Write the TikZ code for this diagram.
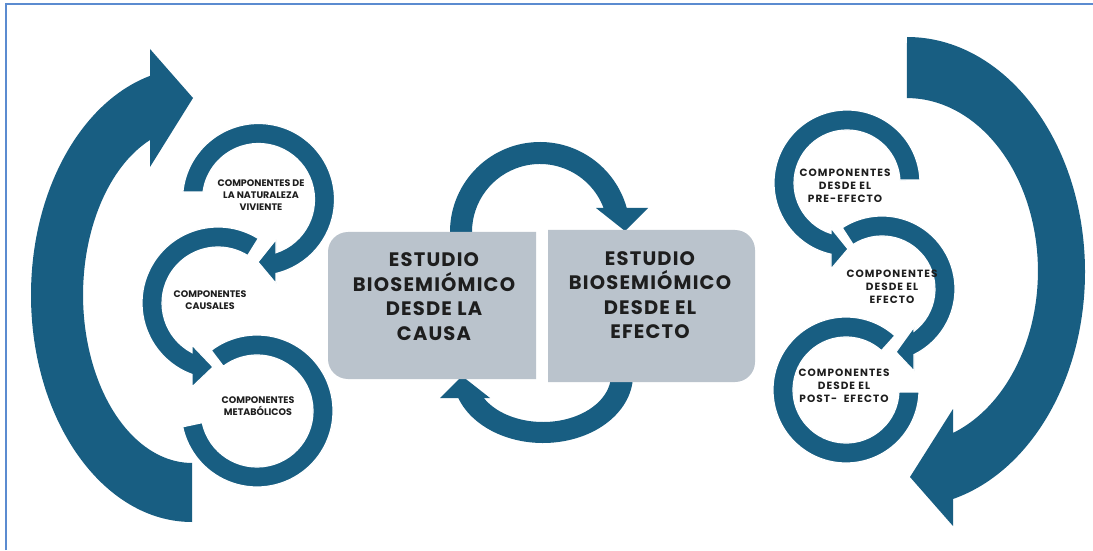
\documentclass[tikz,border=0pt]{standalone}
\usepackage{fontspec}
\newfontfamily\pop{Poppins}
\newfontfamily\popw{Poppins}[LetterSpace=6]
\newfontfamily\popr{Poppins}[LetterSpace=10]
\definecolor{arrowblue}{HTML}{185E82}
\definecolor{boxgray}{HTML}{BAC3CC}
\definecolor{bordercol}{HTML}{5B8BD0}
\definecolor{txt}{HTML}{1E1E1E}
\begin{document}
\begin{tikzpicture}[x=1pt,y=1pt,
  band/.style={fill=arrowblue},
  ring/.style={fill=arrowblue,draw=white,line width=1.2pt},
  boxtext/.style={align=center,text=txt,font=\popw\bfseries\fontsize{19.5}{24.5}\selectfont},
  ltext/.style={align=center,text=txt,font=\pop\bfseries\fontsize{9.5}{12.2}\selectfont},
  rtext/.style={align=center,text=txt,font=\popr\bfseries\fontsize{10.5}{13}\selectfont}]
\useasboundingbox (0,0) rectangle (1093,550);
\fill[white] (0,0) rectangle (1093,550);
% border
\draw[bordercol,line width=1.5pt] (6,0) -- (6,546) -- (1093,546);
% big left C arrow
\fill[band] (192,28) arc[start angle=270, end angle=105.1, x radius=161pt, y radius=227pt]
  -- (150,501) -- (193,452) -- (150,383) -- (150,410)
  arc[start angle=112.7, end angle=270, x radius=109pt, y radius=168pt] -- cycle;
% big right arrow
\fill[band] (907,513) arc[start angle=90, end angle=-75, x radius=178pt, y radius=235pt]
  -- (953,24) -- (910,73) -- (953,141) -- (953,117)
  arc[start angle=-69.4, end angle=90, x radius=131pt, y radius=173pt] -- cycle;
% circle 1
\begin{scope}[shift={(258.5,350.5)}]
\path[ring] (174.3:76pt) arc[start angle=174.3, end angle=-76.7, radius=76pt]
  -- (17.5,-84) -- (-0.5,-62.5) -- (17.5,-40) -- (17.5,-53.2)
  arc[start angle=-71.8, end angle=172.3, radius=56pt] -- cycle;
\end{scope}
% circle 2
\begin{scope}[shift={(218,247)}]
\path[ring] (58:76pt) arc[start angle=58, end angle=250, radius=76pt]
  -- (-26,-84) -- (-5,-64) -- (-26,-42) -- (-26,-49.6)
  arc[start angle=242.3, end angle=58, radius=56pt] -- cycle;
\end{scope}
% circle 3
\begin{scope}[shift={(257,139)}]
\path[ring] (127:76pt) arc[start angle=127, end angle=-168, radius=76pt]
  -- (-168:56pt) arc[start angle=-168, end angle=127, radius=56pt] -- cycle;
\end{scope}
% circle 4
\begin{scope}[shift={(847,367)}]
\path[ring] (2.4:73pt) arc[start angle=2.4, end angle=257.3, radius=73pt]
  -- (-16,-86) -- (1,-66) -- (-16,-45) -- (-16,-50.5)
  arc[start angle=252.4, end angle=3.2, radius=53pt] -- cycle;
\end{scope}
% circle 5
\begin{scope}[shift={(882,261)}]
\path[ring] (123:73pt) arc[start angle=123, end angle=-64.0, radius=73pt]
  -- (32,-82) -- (14,-63) -- (32,-38) -- (32,-42.2)
  arc[start angle=-52.8, end angle=123, radius=53pt] -- cycle;
\end{scope}
% circle 6
\begin{scope}[shift={(846,160)}]
\path[ring] (48:73pt) arc[start angle=48, end angle=358.4, radius=73pt]
  -- (357.8:53pt) arc[start angle=357.8, end angle=48, radius=53pt] -- cycle;
\end{scope}
% centre top loop
\begin{scope}[shift={(540,318)}]
\fill[band] (185:90pt) arc[start angle=185, end angle=15.47, radius=90pt]
  -- (108,24) -- (85,1) -- (56,24) -- (63.6,24)
  arc[start angle=20.67, end angle=185, radius=68pt] -- cycle;
\end{scope}
% centre bottom loop
\begin{scope}[shift={(543,175)}]
\fill[band] (10:90pt and 68pt) arc[start angle=10, end angle=-160.23, x radius=90pt, y radius=68pt]
  -- (-103,-23) -- (-81,-1) -- (-53,-23) -- (-59.3,-23)
  arc[start angle=-150.7, end angle=10, x radius=68pt, y radius=47pt] -- cycle;
\end{scope}
% boxes
\fill[boxgray] (536,171) -- (348,171) arc[start angle=270, end angle=180, radius=20pt]
  -- (328,298) arc[start angle=180, end angle=90, radius=20pt] -- (536,318) -- cycle;
\fill[boxgray] (548,168) -- (735,168) arc[start angle=-90, end angle=0, radius=20pt]
  -- (755,300) arc[start angle=0, end angle=90, radius=20pt] -- (548,320) -- cycle;
% texts
\node[boxtext] (causa) at (434,253.5) {ESTUDIO\\BIOSEMIÓMICO\\DESDE LA\\CAUSA};
\node[boxtext] (efecto) at (650,255) {ESTUDIO\\BIOSEMIÓMICO\\DESDE EL\\EFECTO};
\node[ltext] (c1) at (261,355) {COMPONENTES DE\\LA NATURALEZA\\VIVIENTE};
\node[ltext] (c2) at (210,250) {COMPONENTES\\CAUSALES};
\node[ltext] (c3) at (258,143.5) {COMPONENTES\\METABÓLICOS};
\node[rtext] (c4) at (845,364) {COMPONENTES\\DESDE EL\\PRE-EFECTO};
\node[rtext] (c5) at (892,263) {COMPONENTES\\DESDE EL\\EFECTO};
\node[rtext] (c6) at (844,164) {COMPONENTES\\DESDE EL\\POST-\ \ EFECTO};
\end{tikzpicture}
\end{document}
